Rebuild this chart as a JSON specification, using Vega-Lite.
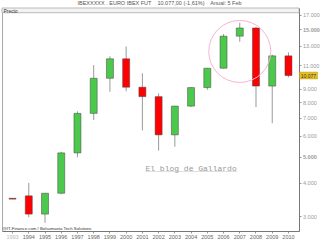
{
  "$schema": "https://vega.github.io/schema/vega-lite/v6.json",
  "width": 297,
  "height": 223,
  "autosize": {"type": "none"},
  "padding": {"left": 2, "top": 8, "right": 21, "bottom": 9},
  "background": "white",
  "title": {"text": "IBEXXXXX . EURO IBEX FUT \u00a0\u00a0 10.077,00 (-1,61%) \u00a0\u00a0 Anual: 5 Feb", "fontSize": 5.5, "fontWeight": "normal", "color": "#555", "font": "Liberation Sans", "anchor": "middle", "offset": 1, "dx": 9},
  "config": {
    "locale": {"number": {"decimal": ",", "thousands": ".", "grouping": [3], "currency": ["", " €"]}},
    "view": {"stroke": "#aaa", "strokeWidth": 1},
    "axis": {"grid": false, "title": null, "labelFont": "Liberation Sans", "labelFontSize": 5.5, "domainColor": "#777", "tickColor": "#999"}
  },
  "datasets": {
    "candles": [
      {"year": "1993", "open": 3495, "high": 3495, "low": 3470, "close": 3470},
      {"year": "1994", "open": 3570, "high": 3990, "low": 2970, "close": 3050},
      {"year": "1995", "open": 3050, "high": 3660, "low": 2830, "close": 3650},
      {"year": "1996", "open": 3650, "high": 5220, "low": 3620, "close": 5170},
      {"year": "1997", "open": 5170, "high": 7400, "low": 4980, "close": 7270},
      {"year": "1998", "open": 7270, "high": 11030, "low": 6870, "close": 9840},
      {"year": "1999", "open": 9840, "high": 11900, "low": 8760, "close": 11640},
      {"year": "2000", "open": 11640, "high": 12950, "low": 8800, "close": 9110},
      {"year": "2001", "open": 9110, "high": 10270, "low": 6280, "close": 8400},
      {"year": "2002", "open": 8400, "high": 8650, "low": 5270, "close": 6040},
      {"year": "2003", "open": 6040, "high": 7760, "low": 5450, "close": 7740},
      {"year": "2004", "open": 7740, "high": 9100, "low": 7680, "close": 9080},
      {"year": "2005", "open": 9080, "high": 10760, "low": 8900, "close": 10730},
      {"year": "2006", "open": 10730, "high": 14410, "low": 10700, "close": 14150},
      {"year": "2007", "open": 14150, "high": 15890, "low": 13480, "close": 15180},
      {"year": "2008", "open": 15180, "high": 15300, "low": 7680, "close": 9200},
      {"year": "2009", "open": 9200, "high": 12050, "low": 6680, "close": 11940},
      {"year": "2010", "open": 11940, "high": 12300, "low": 9920, "close": 10077}
    ],
    "one": [{"label": "x"}]
  },
  "layer": [
    {
      "data": {"name": "one"},
      "mark": {"type": "rect", "fill": "#f3f3f3", "stroke": "#aaa", "strokeWidth": 0.8},
      "encoding": {
        "y": {"datum": 17320, "type": "quantitative", "scale": {"type": "log", "domain": [2636, 18040], "nice": false}},
        "y2": {"datum": 18040}
      }
    },
    {
      "data": {"name": "candles"},
      "mark": {"type": "rule", "color": "#999", "strokeWidth": 1},
      "encoding": {
        "x": {"field": "year", "type": "ordinal", "scale": {"domain": ["1993","1994","1995","1996","1997","1998","1999","2000","2001","2002","2003","2004","2005","2006","2007","2008","2009","2010"], "paddingInner": 0, "paddingOuter": 0.15},
          "axis": {"labelAngle": 0, "tickSize": 2, "labelPadding": 1, "labelColor": {"condition": {"test": "datum.value == '1993'", "value": "#bbb"}, "value": "#666"}}},
        "y": {"field": "low", "type": "quantitative", "scale": {"type": "log", "domain": [2636, 18040], "nice": false},
          "axis": {"orient": "right", "values": [3000,4000,5000,6000,7000,8000,9000,11000,13000,15000,17000], "format": ",d", "tickSize": 2, "labelPadding": 1.5, "labelColor": "#999",
            "labelFontWeight": {"condition": {"test": "datum.value == 5000 || datum.value == 15000", "value": "bold"}, "value": "normal"}}},
        "y2": {"field": "high"}
      }
    },
    {
      "data": {"name": "candles"},
      "mark": {"type": "bar", "size": 7, "stroke": "#444", "strokeWidth": 0.5},
      "encoding": {
        "x": {"field": "year", "type": "ordinal"},
        "y": {"field": "open", "type": "quantitative"},
        "y2": {"field": "close"},
        "color": {"condition": {"test": "datum.close > datum.open", "value": "#4cc94c"}, "value": "#ff0000"}
      }
    },
    {
      "data": {"name": "one"},
      "mark": {"type": "text", "text": "Precio", "font": "Liberation Sans", "fontSize": 5, "color": "#333", "align": "left", "baseline": "middle", "dx": -1},
      "encoding": {
        "x": {"datum": "1993", "type": "ordinal", "bandPosition": 0},
        "y": {"datum": 17650, "type": "quantitative"}
      }
    },
    {
      "data": {"name": "one"},
      "mark": {"type": "text", "text": "@IT-Finance.com / Bolsamania Tech Solutions", "font": "Liberation Sans", "fontSize": 4.3, "color": "#333", "align": "left", "baseline": "bottom", "dx": -2, "dy": -0.5},
      "encoding": {
        "x": {"datum": "1993", "type": "ordinal", "bandPosition": 0},
        "y": {"datum": 2636, "type": "quantitative"}
      }
    },
    {
      "data": {"name": "one"},
      "mark": {"type": "text", "text": "El blog de Gallardo", "font": "Liberation Mono", "fontSize": 8, "color": "#999", "align": "center", "baseline": "alphabetic"},
      "encoding": {
        "x": {"datum": "2004", "type": "ordinal"},
        "y": {"datum": 4422, "type": "quantitative"}
      }
    },
    {
      "data": {"name": "one"},
      "mark": {"type": "text", "text": "___________________", "font": "Liberation Mono", "fontSize": 8, "color": "#aaa", "align": "center", "baseline": "alphabetic"},
      "encoding": {
        "x": {"datum": "2004", "type": "ordinal"},
        "y": {"datum": 4422, "type": "quantitative"}
      }
    },
    {
      "data": {"name": "one"},
      "mark": {"type": "point", "filled": false, "stroke": "#f7b3d7", "strokeWidth": 1, "size": 3844, "opacity": 1},
      "encoding": {
        "x": {"datum": "2007", "type": "ordinal"},
        "y": {"datum": 12400, "type": "quantitative"}
      }
    },
    {
      "data": {"name": "one"},
      "mark": {"type": "point", "filled": true, "shape": "M-1,-0.38H1V0.38H-1Z", "size": 324, "fill": "#e8c020", "stroke": "#b8960a", "strokeWidth": 0.5, "opacity": 1, "xOffset": 20},
      "encoding": {
        "x": {"datum": "2010", "type": "ordinal"},
        "y": {"datum": 10077, "type": "quantitative"}
      }
    },
    {
      "data": {"name": "one"},
      "mark": {"type": "text", "text": "10.077", "font": "Liberation Sans", "fontSize": 5, "color": "#333", "align": "center", "baseline": "middle", "dx": 20},
      "encoding": {
        "x": {"datum": "2010", "type": "ordinal"},
        "y": {"datum": 10077, "type": "quantitative"}
      }
    }
  ]
}
